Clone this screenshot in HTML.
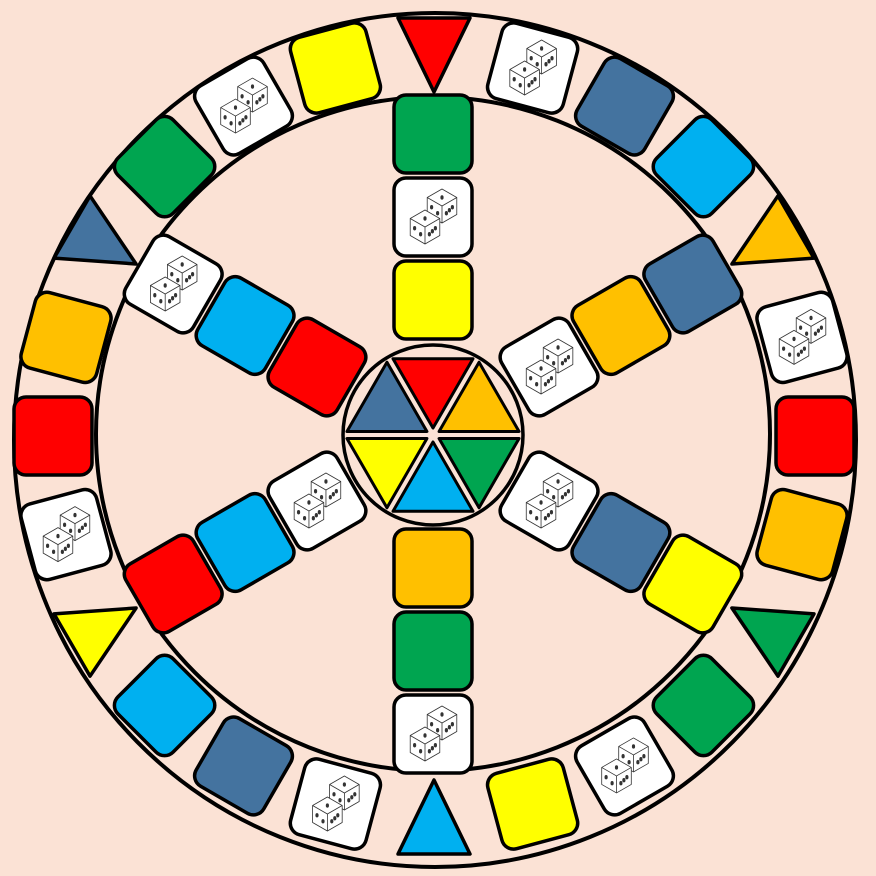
<!DOCTYPE html>
<html><head><meta charset="utf-8"><style>
html,body{margin:0;padding:0;background:#fbe2d5;}
svg{display:block}
</style></head><body>
<svg id="board" width="876" height="876" viewBox="0 0 876 876" xmlns="http://www.w3.org/2000/svg">
<rect width="876" height="876" fill="#fbe2d5"/>
<ellipse cx="435" cy="440" rx="421" ry="427" fill="none" stroke="#000" stroke-width="4"/>
<circle cx="433" cy="434" r="337" fill="none" stroke="#000" stroke-width="4"/>
<g id="marks"></g>
</svg>
<script>
const C={r:'#ff0000',o:'#ffc000',y:'#ffff00',g:'#00a550',l:'#00b0f0',b:'#44739f',w:'#ffffff'};
// ring spaces clockwise from top (-90deg), 15deg apart; 'T*' = triangle
const ringSpaces=['Tr','w','b','l','To','w','r','o','Tg','g','w','y','Tl','w','b','l','Ty','w','r','o','Tb','g','w','y'];
const spokeAngles=[-90,-30,30,90,150,210];
const spokeSpaces=[['y','w','g'],['w','o','b'],['w','b','y'],['o','g','w'],['w','l','r'],['r','l','w']];
const hubColors=['r','o','g','l','y','b'];
const NS='http://www.w3.org/2000/svg';
const g=document.getElementById('marks');
const CX=434,CY=436,RR=381;
function mk(t,a,p){const e=document.createElementNS(NS,t);for(const k in a)e.setAttribute(k,a[k]);(p||g).appendChild(e);return e;}
function cube(p,cx,cy,s){
  const h=0.87*s;
  const pts=[[cx,cy-s],[cx+h,cy-s/2],[cx+h,cy+s/2],[cx,cy+s],[cx-h,cy+s/2],[cx-h,cy-s/2]];
  mk('polygon',{points:pts.map(q=>q.join(',')).join(' '),fill:'#fff',stroke:'#333','stroke-width':0.8},p);
  mk('polyline',{points:`${cx-h},${cy-s/2} ${cx},${cy} ${cx+h},${cy-s/2}`,fill:'none',stroke:'#333','stroke-width':0.8},p);
  mk('line',{x1:cx,y1:cy,x2:cx,y2:cy+s,stroke:'#333','stroke-width':0.8},p);
  const dots=[[cx,cy-s/2],[cx-h/2-3,cy+s/4-3],[cx-h/2+3,cy+s/4+3],[cx+h/2-3,cy+s/4+3],[cx+h/2,cy+s/4],[cx+h/2+3,cy+s/4-3]];
  dots.forEach(d=>mk('ellipse',{cx:d[0],cy:d[1],rx:1.6,ry:2.2,fill:'#333'},p));
}
function square(x,y,ang,col,name){
  const grp=mk('g',{transform:`translate(${x},${y}) rotate(${ang})`});
  
  
  mk('rect',{x:-39,y:-39,width:78,height:78,rx:12,fill:C[col],stroke:'#000','stroke-width':3.5},grp);
  if(col==='w'){
    const d=mk('g',{transform:`translate(${x},${y})`});
    
    
    cube(d,9,-11,17);cube(d,-8,10,17);
  }
}
ringSpaces.forEach((s,i)=>{
  const a=-90+i*15,rad=a*Math.PI/180;
  const x=CX+RR*Math.cos(rad),y=CY+RR*Math.sin(rad);
  if(s[0]==='T'){
    const grp=mk('g',{transform:`translate(${x},${y}) rotate(${a+90})`});
    
    
    mk('polygon',{points:'-36,-37 36,-37 0,37',fill:C[s[1]],stroke:'#000','stroke-width':3.5,'stroke-linejoin':'round'},grp);
  } else square(x,y,a+90,s,'ring-space');
});
spokeAngles.forEach((a,i)=>{
  const rad=a*Math.PI/180;
  [134,217,300].forEach((d,j)=>{
    square(433+d*Math.cos(rad),434+d*Math.sin(rad),a+90,spokeSpaces[i][j],'spoke-space');
  });
});
const hub=mk('circle',{cx:433,cy:435,r:90,fill:'#fbe2d5',stroke:'#000','stroke-width':3.5});


hubColors.forEach((c,i)=>{
  const a=(-90+i*60)*Math.PI/180,a1=a-Math.PI/6,a2=a+Math.PI/6;
  const ox=433+7*Math.cos(a),oy=435+7*Math.sin(a),R=80;
  const p=mk('polygon',{points:`${ox},${oy} ${ox+R*Math.cos(a1)},${oy+R*Math.sin(a1)} ${ox+R*Math.cos(a2)},${oy+R*Math.sin(a2)}`,fill:C[c],stroke:'#000','stroke-width':3,'stroke-linejoin':'round'});
  
  
});
</script>
</body></html>
